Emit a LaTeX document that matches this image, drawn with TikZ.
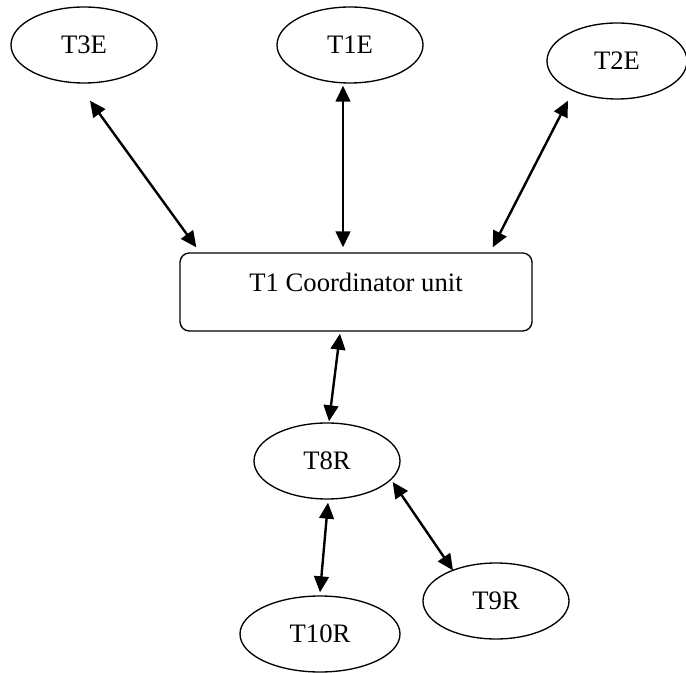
\documentclass[tikz,border=0pt]{standalone}
\usepackage{fontspec}
\setmainfont{Liberation Serif}
\usepackage{tikz}
\usetikzlibrary{shapes.geometric,arrows.meta}
\tikzstyle{agent}=[ellipse,draw,line width=1pt,minimum width=109.5pt,minimum height=57pt,inner sep=0pt,font=\fontsize{20}{24}\selectfont]
\tikzstyle{unitbox}=[rectangle,rounded corners=7pt,draw,line width=1pt,minimum width=264pt,minimum height=58.5pt,inner sep=0pt,text height=10pt,text depth=10pt,font=\fontsize{20}{24}\selectfont]
\tikzstyle{link} = [draw, line width=1.8pt, {Triangle[length=12pt,width=11pt]}-{Triangle[length=12pt,width=11pt]}]

\begin{document}
\begin{tikzpicture}[x=0.75pt,y=-0.75pt]
  \useasboundingbox (0,0) rectangle (686,673);

  % top row
  \node[agent] (T3E) at (84,45) {T3E};
  \node[agent] (T1E) at (350,45) {T1E};
  \node[agent,minimum width=105pt] (T2E) at (617,61) {T2E};
  % coordinator
  \node[unitbox] (unit) at (356,292) {T1 Coordinator unit};
  % lower part
  \node[agent] (T8R) at (327,461) {T8R};
  \node[agent] (T9R) at (496,601) {T9R};
  \node[agent,minimum width=120pt] (T10R) at (320,634) {T10R};

  % links
  \path[link] ([shift={(6,17)}]T3E.south) -- ([shift={(17,-5)}]unit.north west);
  \path[link] ([shift={(-7,2)}]T1E.south) -- ([shift={(-13,-5)}]unit.north);
  \path[link] ([shift={(-49,1)}]T2E.south) -- ([shift={(-40,-5)}]unit.north east);
  \path[link] ([shift={(-16,2)}]unit.south) -- ([shift={(2,-1)}]T8R.north);
  \path[link] ([shift={(1,3)}]T8R.south) -- ([shift={(0,-3)}]T10R.north);
  \path[link] ([shift={(-8,21)}]T8R.east) -- ([shift={(-43,8)}]T9R.north);
\end{tikzpicture}
\end{document}
